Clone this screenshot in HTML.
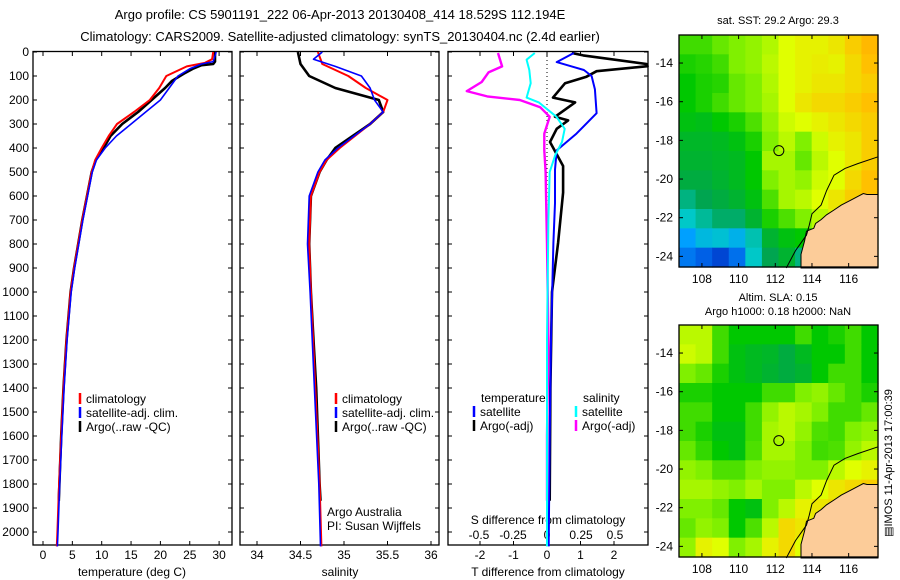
<!DOCTYPE html>
<html><head><meta charset="utf-8">
<style>
body{margin:0;background:#fff;}
svg{display:block;font-family:"Liberation Sans",sans-serif;}
</style></head>
<body>
<svg id="fig" width="900" height="580" viewBox="0 0 900 580" xmlns="http://www.w3.org/2000/svg">
<text x="340" y="19" font-size="13" text-anchor="middle">Argo profile: CS 5901191_222 06-Apr-2013 20130408_414 18.529S 112.194E</text>
<text x="340" y="41" font-size="13" text-anchor="middle">Climatology: CARS2009. Satellite-adjusted climatology: synTS_20130404.nc (2.4d earlier)</text>
<text x="778" y="24" font-size="11" text-anchor="middle">sat. SST: 29.2 Argo: 29.3</text>
<text x="778" y="301" font-size="11" text-anchor="middle">Altim. SLA: 0.15</text>
<text x="778" y="315" font-size="11" text-anchor="middle">Argo h1000: 0.18 h2000: NaN</text>
<text x="0" y="0" font-size="11" text-anchor="middle" transform="translate(892,463) rotate(-90)">&#9636;IMOS 11-Apr-2013 17:00:39</text>
<g id="g"></g>
</svg>
<script>
// ---------- data ----------
const depthTicks=[0,100,200,300,400,500,600,700,800,900,1000,1100,1200,1300,1400,1500,1600,1700,1800,1900,2000];
const tempTicks=[0,5,10,15,20,25,30];
const salTicks=[34,34.5,35,35.5,36];
const salTickLabels=["34","34.5","35","35.5","36"];
const tdTicks=[-2,-1,0,1,2];
const sdTicks=[-0.5,-0.25,0,0.25,0.5];
const sdTickLabels=["-0.5","-0.25","0","0.25","0.5"];
const lonTicks=[108,110,112,114,116];
const latTicks=[-14,-16,-18,-20,-22,-24];

const tClimDepth=[0,30,45,60,100,150,200,250,300,350,400,450,500,600,700,800,900,1000,1200,1400,1600,1800,2000,2060];
const tClim=[29,28.8,27.6,24.5,21,19.8,18.2,15.5,12.6,11.2,10,8.9,8.3,7.5,6.7,6,5.3,4.7,4,3.5,3.1,2.75,2.45,2.35];
const tSatDepth=[0,40,50,70,100,150,200,250,300,350,400,450,500,600,700,800,900,1000,1200,1400,1600,1800,2000,2060];
const tSat=[29.5,29,27,25,23,21.5,20,17.5,15,12.5,10.6,9.1,8.4,7.6,6.8,6.1,5.4,4.8,4.1,3.6,3.2,2.85,2.55,2.45];
const tArgoDepth=[0,40,50,55,70,90,120,150,200,250,300,350,380,450,500,600,700,800,900,1000,1200,1400,1600,1800,1870];
const tArgo=[29.3,29.3,29,27,25.5,24,22,20.8,18.5,16.2,13.5,11.5,10.8,9,8.3,7.5,6.7,6,5.3,4.7,4,3.5,3.1,2.8,2.7];

const sClimDepth=[0,50,100,150,200,250,300,400,450,500,600,800,1000,1400,1800,2060];
const sClim=[34.7,34.75,35.05,35.25,35.5,35.45,35.3,34.95,34.8,34.72,34.62,34.6,34.62,34.67,34.72,34.74];
const sSatDepth=[0,30,60,100,150,200,250,300,400,450,500,600,800,1000,1400,1800,2060];
const sSat=[34.75,34.65,34.9,35.2,35.3,35.35,35.45,35.3,34.93,34.78,34.7,34.6,34.58,34.61,34.66,34.71,34.73];
const sArgoDepth=[0,50,100,150,200,250,300,350,400,450,500,600,800,1000,1200,1400,1600,1800,1870];
const sArgo=[34.47,34.5,34.6,34.9,35.4,35.45,35.3,35.1,34.9,34.8,34.72,34.62,34.6,34.62,34.65,34.68,34.7,34.72,34.73];

const dTArgoDepth=[4,14,50,59,80,103,130,190,210,270,285,320,375,475,586,795,1000,1400,1870];
const dTArgo=[0.74,1.08,2.97,3.0,1.48,1.18,0.54,0.18,0.84,0.24,0.63,0.29,0.09,0.48,0.48,0.33,0.15,0.1,0.08];
const dTSatDepth=[4,42,63,75,100,155,255,340,410,490,630,795,1200,1600,2060];
const dTSat=[0.8,0.29,0.8,1.1,1.33,1.43,1.48,0.88,0.29,0.24,0.24,0.19,0.12,0.08,0.05];
const dSArgoDepth=[4,60,85,125,163,185,200,230,270,340,410,500,800,1200,1600,1870];
const dSArgo=[-0.36,-0.33,-0.43,-0.48,-0.59,-0.44,-0.2,-0.05,0.02,-0.02,-0.02,-0.01,0.0,0.01,0.0,0.0];
const dSSatDepth=[4,32,75,130,190,210,270,320,375,430,500,700,1200,1600,2060];
const dSSat=[-0.09,-0.15,-0.13,-0.12,-0.15,-0.06,0.07,0.13,0.11,0.06,0.02,0.01,0.0,0.0,0.0];

const sstGrid=[
[.55,.55,.58,.6,.62,.65,.7,.72,.72,.74,.78,.82],
[.52,.53,.55,.6,.62,.66,.7,.72,.73,.72,.76,.8],
[.5,.52,.53,.58,.6,.65,.7,.72,.74,.74,.76,.78],
[.5,.52,.55,.58,.6,.64,.7,.74,.76,.76,.78,.8],
[.48,.47,.5,.52,.56,.62,.68,.7,.72,.74,.76,.78],
[.45,.45,.46,.48,.52,.6,.66,.6,.68,.72,.74,.78],
[.44,.44,.45,.46,.5,.64,.64,.58,.66,.7,.74,.78],
[.42,.42,.44,.46,.5,.6,.64,.62,.68,.7,.76,.8],
[.36,.4,.42,.44,.48,.56,.64,.66,.7,.74,.78,.8],
[.3,.34,.38,.38,.44,.52,.56,.6,.66,.72,.76,.8],
[.2,.26,.28,.24,.32,.44,.48,.5,.55,.6,.7,.75],
[.15,.12,.08,.14,.3,.4,.44,.36,.5,.6,.7,.75]];
const slaGrid=[
[.66,.66,.55,.5,.5,.5,.5,.55,.5,.52,.55,.5],
[.68,.66,.55,.48,.46,.45,.42,.46,.5,.5,.55,.5],
[.6,.58,.52,.48,.46,.44,.42,.44,.5,.55,.55,.5],
[.52,.52,.5,.5,.5,.55,.55,.6,.62,.58,.55,.52],
[.55,.55,.5,.5,.55,.62,.66,.64,.6,.55,.55,.58],
[.55,.52,.48,.48,.55,.64,.66,.62,.56,.55,.6,.62],
[.58,.54,.5,.48,.56,.64,.64,.6,.55,.56,.62,.66],
[.62,.6,.56,.56,.6,.62,.62,.6,.6,.66,.7,.72],
[.64,.64,.62,.6,.64,.6,.6,.66,.7,.74,.76,.78],
[.6,.6,.58,.5,.48,.6,.66,.72,.74,.76,.78,.8],
[.58,.62,.6,.5,.56,.66,.76,.74,.74,.76,.78,.8],
[.62,.72,.7,.6,.64,.72,.76,.7,.74,.76,.78,.8]];
const argoLon=112.194, argoLat=-18.529;
const coastLon=[117.6,117.0,116.8,116.1,115.6,115.2,114.8,114.5,114.2,114.1,113.7,113.6,113.4,113.4,117.6];
const coastLat=[-20.8,-20.8,-20.75,-21.1,-21.35,-21.6,-21.85,-22.1,-22.3,-22.55,-22.7,-23.2,-23.9,-24.6,-24.6];
const contourLon=[117.6,116.5,115.8,115.2,114.8,114.5,114.0,113.85,113.7,113.1,112.6];
const contourLat=[-18.85,-19.2,-19.45,-19.8,-20.6,-21.35,-21.8,-22.4,-22.9,-23.7,-24.6];

// ---------- helpers ----------
const NS="http://www.w3.org/2000/svg";
const G=document.getElementById('g');
function mk(tag,attrs,parent){const e=document.createElementNS(NS,tag);for(const k in attrs)e.setAttribute(k,attrs[k]);(parent||G).appendChild(e);return e;}
const Y0=52,PX_PER_M=0.24;
function yD(d){return Y0+d*PX_PER_M;}
const PT=545;
const p1={l:33,r:232}, p2={l:240,r:439}, p3={l:448,r:648};
function xT(t){return 43+t*5.87;}
function xS(s){return 257+(s-34)*87;}
function xdT(t){return 547+t*33.5;}
function xdS(s){return 547+s*136;}

function frame(p,name){const r=mk('rect',{x:p.l,y:Y0-0.5,width:p.r-p.l,height:PT-Y0+0.5,fill:'none',stroke:'#000','stroke-width':1.3});}
function line(xs,ys,xf,color,w,name){
  let d='';for(let i=0;i<xs.length;i++){d+=(i?'L':'M')+xf(xs[i]).toFixed(1)+','+yD(ys[i]).toFixed(1);}
  const p=mk('path',{d:d,fill:'none',stroke:color,'stroke-width':w,'stroke-linejoin':'round'});
  return p;}
function txt(x,y,s,size,anchor,name){const t=mk('text',{x:x,y:y,'font-size':size,'text-anchor':anchor||'start'});t.textContent=s;return t;}

frame(p1,'temperature-panel-frame');frame(p2,'salinity-panel-frame');frame(p3,'difference-panel-frame');

depthTicks.forEach(d=>{
  const y=yD(d);
  [p1,p2,p3].forEach(p=>{mk('line',{x1:p.l,y1:y,x2:p.l+4,y2:y,stroke:'#000'});mk('line',{x1:p.r-4,y1:y,x2:p.r,y2:y,stroke:'#000'});});
  txt(29,y+4,String(d),12,'end','depth-tick-label');
});
tempTicks.forEach((t,i)=>{const x=xT(t);mk('line',{x1:x,y1:Y0,x2:x,y2:Y0+4,stroke:'#000'});mk('line',{x1:x,y1:PT-4,x2:x,y2:PT,stroke:'#000'});txt(x,559,String(t),12,'middle','temperature-tick-label');});
txt(132,576,'temperature (deg C)',12,'middle','temperature-axis-title');
salTicks.forEach((s,i)=>{const x=xS(s);mk('line',{x1:x,y1:Y0,x2:x,y2:Y0+4,stroke:'#000'});mk('line',{x1:x,y1:PT-4,x2:x,y2:PT,stroke:'#000'});txt(x,559,salTickLabels[i],12,'middle','salinity-tick-label');});
txt(340,576,'salinity',12,'middle','salinity-axis-title');
tdTicks.forEach(t=>{const x=xdT(t);mk('line',{x1:x,y1:Y0,x2:x,y2:Y0+4,stroke:'#000'});mk('line',{x1:x,y1:PT-4,x2:x,y2:PT,stroke:'#000'});txt(x,559,String(t),12,'middle','t-diff-tick-label');});
txt(548,576,'T difference from climatology',12,'middle','t-diff-axis-title');
sdTicks.forEach((s,i)=>{const x=xdS(s);txt(x,539,sdTickLabels[i],12,'middle','s-diff-tick-label');});
txt(548,524,'S difference from climatology',12,'middle','s-diff-axis-title');
mk('line',{x1:547,y1:Y0,x2:547,y2:PT,stroke:'#000','stroke-dasharray':'1,3'});

line(tArgo,tArgoDepth,xT,'#000',2.6,'temp-argo-line');
line(tClim,tClimDepth,xT,'#f00',2,'temp-climatology-line');
line(tSat,tSatDepth,xT,'#00f',1.6,'temp-satellite-line');
line(sArgo,sArgoDepth,xS,'#000',2.6,'sal-argo-line');
line(sClim,sClimDepth,xS,'#f00',2,'sal-climatology-line');
line(sSat,sSatDepth,xS,'#00f',1.6,'sal-satellite-line');
line(dTArgo,dTArgoDepth,xdT,'#000',2.6,'tdiff-argo-line');
line(dTSat,dTSatDepth,xdT,'#00f',2,'tdiff-satellite-line');
line(dSArgo,dSArgoDepth,xdS,'#f0f',2.4,'sdiff-argo-line');
line(dSSat,dSSatDepth,xdS,'#0ff',2,'sdiff-satellite-line');

function leg(x,y,color,label,name){const l=mk('line',{x1:x,y1:y-10,x2:x,y2:y+1,stroke:color,'stroke-width':2.5});txt(x+6,y,label,12,'start',name);}
[80,336].forEach(x=>{
  leg(x,403,'#f00','climatology','legend-climatology');
  leg(x,417,'#00f','satellite-adj. clim.','legend-satellite');
  leg(x,431,'#000','Argo(..raw -QC)','legend-argo');
});
txt(481,402,'temperature',12,'start','legend-temperature-heading');
leg(474,416,'#00f','satellite','legend-t-satellite');
leg(474,430,'#000','Argo(-adj)','legend-t-argo');
txt(583,402,'salinity',12,'start','legend-salinity-heading');
leg(576,416,'#0ff','satellite','legend-s-satellite');
leg(576,430,'#f0f','Argo(-adj)','legend-s-argo');
txt(327,516,'Argo Australia',12,'start','credit-argo-australia');
txt(327,530,'PI: Susan Wijffels',12,'start','credit-pi');

const stops=[[0,[0,32,160]],[.1,[0,80,224]],[.2,[0,160,255]],[.3,[0,200,200]],[.4,[0,165,80]],[.5,[0,200,0]],[.6,[128,240,0]],[.7,[224,255,0]],[.8,[255,192,0]],[.9,[255,150,0]]];
function cmap(v){for(let i=1;i<stops.length;i++){if(v<=stops[i][0]){const a=stops[i-1],b=stops[i],f=(v-a[0])/(b[0]-a[0]);return 'rgb('+a[1].map((c,j)=>Math.round(c+(b[1][j]-c)*f)).join(',')+')';}}return 'rgb(255,150,0)';}
const LON0=106.75,LON1=117.6,LAT0=-12.55,LAT1=-24.55;
function drawMap(top,grid,name){
  const L=679,R=878,T=top,B=top+232;
  const mx=lon=>L+(lon-LON0)/(LON1-LON0)*(R-L);
  const my=lat=>T+(lat-LAT0)/(LAT1-LAT0)*(B-T);
  const g=mk('g',{});
  const nr=grid.length,nc=grid[0].length;
  const cw=(R-L)/nc,ch=(B-T)/nr;
  grid.forEach((row,i)=>row.forEach((v,j)=>{const c=mk('rect',{x:(L+j*cw).toFixed(2),y:(T+i*ch).toFixed(2),width:(cw+0.6).toFixed(2),height:(ch+0.6).toFixed(2),fill:cmap(v)},g);
    }));
  let d='';coastLon.forEach((lo,i)=>{d+=(i?'L':'M')+mx(lo).toFixed(1)+','+my(coastLat[i]).toFixed(1);});
  const land=mk('path',{d:d+'Z',fill:'#fccc99',stroke:'#000','stroke-width':1},g);
  d='';contourLon.forEach((lo,i)=>{d+=(i?'L':'M')+mx(lo).toFixed(1)+','+my(contourLat[i]).toFixed(1);});
  const ct=mk('path',{d:d,fill:'none',stroke:'#000','stroke-width':1},g);
  const c=mk('circle',{cx:mx(argoLon),cy:my(argoLat),r:5,fill:'none',stroke:'#000','stroke-width':1},g);
  const f=mk('rect',{x:L,y:T,width:R-L,height:B-T,fill:'none',stroke:'#000','stroke-width':1.3},g);
  lonTicks.forEach(lo=>{const x=mx(lo);mk('line',{x1:x,y1:T,x2:x,y2:T+4,stroke:'#000'},g);mk('line',{x1:x,y1:B-4,x2:x,y2:B,stroke:'#000'},g);txt(x,B+16,String(lo),12,'middle','longitude-tick-label');});
  latTicks.forEach(la=>{const y=my(la);mk('line',{x1:L,y1:y,x2:L+4,y2:y,stroke:'#000'},g);mk('line',{x1:R-4,y1:y,x2:R,y2:y,stroke:'#000'},g);txt(L-6,y+4,String(la),12,'end','latitude-tick-label');});
}
drawMap(35,sstGrid,'sst-map');
drawMap(325,slaGrid,'sla-map');
</script>
</body></html>
